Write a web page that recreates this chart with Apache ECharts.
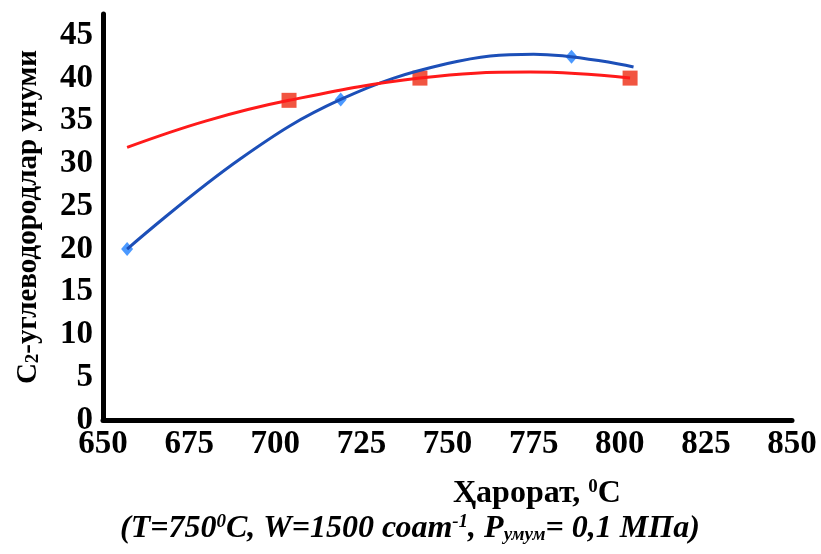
<!DOCTYPE html>
<html>
<head>
<meta charset="utf-8">
<script src="https://cdn.jsdelivr.net/npm/echarts@6/dist/echarts.min.js"></script>
<style>
  html, body { margin: 0; padding: 0; background: #fff; }
  #chart { width: 821px; height: 554px; }
</style>
</head>
<body>
<div id="chart"></div>
<script>
// оси
var xTicks = [650, 675, 700, 725, 750, 775, 800, 825, 850];
var yTicks = [0, 5, 10, 15, 20, 25, 30, 35, 40, 45];

// синяя кривая: точки с маркерами
var blueTemp = [657, 719, 786];
var blueYield = [20.0, 37.5, 42.5];
// синяя линия тренда
var blueTrendTemp = [657, 690, 719, 750, 775, 804];
var blueTrendYield = [20.0, 30.6, 37.5, 41.7, 42.8, 41.3];

// красная кривая: точки с маркерами
var redTemp = [704, 742, 803];
var redYield = [37.4, 40.0, 40.0];
// красная линия тренда
var redTrendTemp = [657, 680, 704, 742, 774, 803];
var redTrendYield = [31.9, 35.0, 37.4, 40.0, 40.7, 40.0];

function pairs(xs, ys) {
	var out = [];
	for (var i = 0; i < xs.length; i++) out.push([xs[i], ys[i]]);
	return out;
}

var chartObj = echarts.init(document.getElementById('chart'));

var serif = '"Liberation Serif", "Times New Roman", serif';

var option = {
	backgroundColor: '#fff',
	animation: false,
	grid: { left: 103, right: 29, top: 14, bottom: 134 },
	xAxis: {
		type: 'value',
		min: xTicks[0],
		max: xTicks[xTicks.length - 1],
		interval: 25,
		axisLine: { show: true, lineStyle: { color: '#000', width: 5 } },
		axisTick: { show: false },
		splitLine: { show: false },
		axisLabel: {
			color: '#000', fontSize: 33, fontWeight: 'bold', fontFamily: serif, margin: 8
		}
	},
	yAxis: {
		type: 'value',
		min: yTicks[0],
		max: 47.5,
		interval: 5,
		axisLine: { show: true, lineStyle: { color: '#000', width: 5 } },
		axisTick: { show: false },
		splitLine: { show: false },
		axisLabel: {
			color: '#000', fontSize: 33, fontWeight: 'bold', fontFamily: serif, margin: 10,
			formatter: function (v) { return yTicks.indexOf(v) >= 0 ? String(v) : ''; }
		},
		name: 'С{sub|2}-углеводородлар унуми',
		nameLocation: 'middle',
		nameRotate: 90,
		nameGap: 60,
		nameTextStyle: {
			color: '#000', fontSize: 29, fontWeight: 'bold', fontFamily: serif,
			rich: {
				sub: { fontSize: 19, fontWeight: 'bold', fontFamily: serif, verticalAlign: 'bottom', color: '#000' }
			}
		}
	},
	graphic: [
		{
			type: 'text', left: 453, top: 478,
			style: {
				text: 'Ҳарорат, {sup|0}С',
				fill: '#000', fontSize: 32, fontWeight: 'bold', fontFamily: serif,
				rich: {
					sup: { fontSize: 19, fontWeight: 'bold', fontFamily: serif, verticalAlign: 'top', fill: '#000' }
				}
			}
		},
		{
			type: 'text', left: 120, top: 513,
			style: {
				text: '(T=750{sup|0}C, W=1500 соат{sup|-1}, P{sub|умум}= 0,1 МПа)',
				fill: '#000', fontSize: 32, fontWeight: 'bold', fontStyle: 'italic', fontFamily: serif,
				rich: {
					sup: { fontSize: 19, fontWeight: 'bold', fontStyle: 'italic', fontFamily: serif, verticalAlign: 'top', fill: '#000' },
					sub: { fontSize: 19, fontWeight: 'bold', fontStyle: 'italic', fontFamily: serif, verticalAlign: 'bottom', fill: '#000' }
				}
			}
		}
	],
	series: [
		{
			type: 'line', name: 'blue-trend', smooth: 0.4, showSymbol: false,
			data: pairs(blueTrendTemp, blueTrendYield),
			lineStyle: { color: '#1c4fb8', width: 3 }
		},
		{
			type: 'line', name: 'red-trend', smooth: 0.4, showSymbol: false,
			data: pairs(redTrendTemp, redTrendYield),
			lineStyle: { color: '#ff1a1a', width: 3 }
		},
		{
			type: 'scatter', name: 'blue', symbol: 'diamond', symbolSize: [12, 14],
			data: pairs(blueTemp, blueYield),
			itemStyle: { color: '#1e7fff' }
		},
		{
			type: 'scatter', name: 'red', symbol: 'rect', symbolSize: 15,
			data: pairs(redTemp, redYield),
			itemStyle: { color: '#ee2a12' }
		}
	]
};
chartObj.setOption(option);
</script>
</body>
</html>
